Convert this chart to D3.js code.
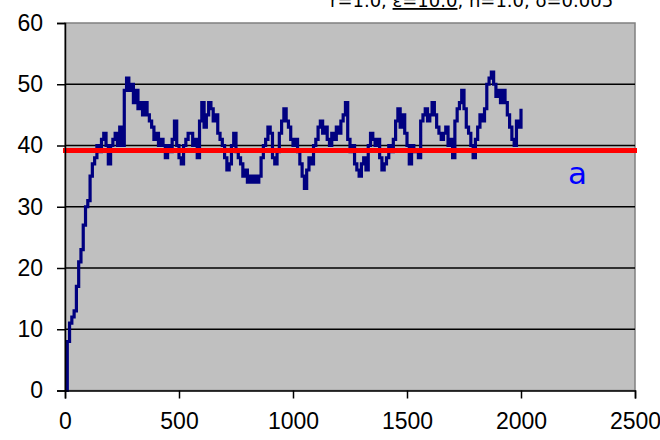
<!DOCTYPE html>
<html>
<head>
<meta charset="utf-8">
<script src="https://cdn.jsdelivr.net/npm/d3@7"></script>
<style>
  html, body { margin: 0; padding: 0; background: #fff; }
  svg { display: block; }
  .tick text { font-family: "Liberation Sans", Arial, sans-serif; font-size: 23px; fill: #000; }
</style>
</head>
<body>
<svg id="chart" width="660" height="440"></svg>
<script>
// Simulation output: population size sampled every 10 steps
const stepSize = 10;
const population = [
  0, 8, 11, 12, 13, 17, 21, 23, 27, 30,
  31, 35, 37, 38, 40, 39, 41, 42, 40, 37,
  40, 41, 42, 40, 43, 40, 49, 51, 49, 50,
  47, 49, 46, 47, 45, 47, 45, 44, 43, 41,
  42, 40, 41, 40, 38, 40, 39, 41, 44, 40,
  38, 37, 40, 41, 42, 42, 40, 41, 38, 44,
  47, 43, 45, 47, 46, 44, 45, 42, 41, 40,
  38, 36, 37, 40, 42, 39, 38, 37, 35, 36,
  34, 35, 34, 35, 34, 35, 38, 40, 41, 43,
  42, 38, 37, 39, 42, 44, 46, 44, 43, 41,
  40, 41, 39, 37, 35, 33, 36, 38, 37, 40,
  41, 43, 44, 42, 43, 41, 40, 42, 41, 43,
  42, 44, 45, 47, 41, 39, 40, 37, 36, 35,
  37, 38, 36, 40, 42, 41, 40, 41, 38, 36,
  37, 38, 40, 39, 41, 44, 46, 43, 45, 42,
  40, 37, 40, 39, 39, 38, 44, 45, 46, 44,
  45, 47, 45, 43, 42, 41, 42, 43, 40, 41,
  38, 44, 46, 47, 49, 46, 43, 42, 40, 38,
  41, 43, 45, 44, 46, 50, 51, 52, 50, 48,
  49, 47, 49, 47, 45, 43, 41, 40, 44, 43,
  46
];
const steps = population.map((_, i) => i * stepSize);

// Reference level drawn across the plot
const levelValue = 39.2;
const levelLabel = "a";

const xTicks = [0, 500, 1000, 1500, 2000, 2500];
const yTicks = [0, 10, 20, 30, 40, 50, 60];
const titleParts = ["r=1.0, ", "ε=10.0", ", n=1.0, δ=0.005"];

const svg = d3.select("#chart");
const plotLeft = 65, plotRight = 635, plotTop = 23, plotBottom = 390.5;

const x = d3.scaleLinear().domain([0, 2500]).range([plotLeft, plotRight]);
const y = d3.scaleLinear().domain([0, 60]).range([plotBottom, plotTop]);

// Title (runs off the top edge)
const title = svg.append("text")
  .attr("x", 330).attr("y", 7)
  .attr("font-family", "DejaVu Sans, Verdana, sans-serif")
  .attr("font-size", 18)
  .attr("fill", "#000");
title.append("tspan").text(titleParts[0]);
title.append("tspan").attr("text-decoration", "underline").text(titleParts[1]);
title.append("tspan").text(titleParts[2]);

// Plot area
svg.append("rect")
  .attr("x", plotLeft).attr("y", plotTop)
  .attr("width", plotRight - plotLeft).attr("height", plotBottom - plotTop)
  .attr("fill", "#c0c0c0")
  .attr("stroke", "#808080").attr("stroke-width", 1.5);

// Horizontal gridlines
svg.append("g")
  .selectAll("line")
  .data(yTicks.filter(d => d > 0 && d < 60))
  .join("line")
  .attr("x1", plotLeft).attr("x2", plotRight)
  .attr("y1", d => y(d)).attr("y2", d => y(d))
  .attr("stroke", "#000").attr("stroke-width", 1.6);

// Population trajectory
const line = d3.line()
  .x((d, i) => x(steps[i]))
  .y(d => y(d))
  .curve(d3.curveStepAfter);

svg.append("path")
  .datum(population)
  .attr("d", line)
  .attr("fill", "none")
  .attr("stroke", "#000080")
  .attr("stroke-width", 3.2)
  .attr("stroke-linejoin", "miter");

// Reference level
svg.append("line")
  .attr("x1", plotLeft - 2).attr("x2", plotRight + 2)
  .attr("y1", y(levelValue)).attr("y2", y(levelValue))
  .attr("stroke", "#ff0000").attr("stroke-width", 5);

svg.append("text")
  .attr("x", 568).attr("y", 184)
  .attr("font-family", "DejaVu Sans, sans-serif")
  .attr("font-size", 31)
  .attr("fill", "#0000ff")
  .text(levelLabel);

// Axes
const xAxis = svg.append("g")
  .attr("transform", `translate(0,${plotBottom})`)
  .call(d3.axisBottom(x).tickValues(xTicks).tickFormat(d3.format("d")).tickSize(8).tickPadding(14));
const yAxis = svg.append("g")
  .attr("transform", `translate(${plotLeft},0)`)
  .call(d3.axisLeft(y).tickValues(yTicks).tickFormat(d3.format("d")).tickSize(8).tickPadding(14));

[xAxis, yAxis].forEach(g => {
  g.select(".domain").attr("stroke", "#000").attr("stroke-width", 1.5);
  g.selectAll(".tick line").attr("stroke", "#000").attr("stroke-width", 1.5);
});
xAxis.selectAll(".tick text").attr("dy", "0.71em");
</script>
</body>
</html>
